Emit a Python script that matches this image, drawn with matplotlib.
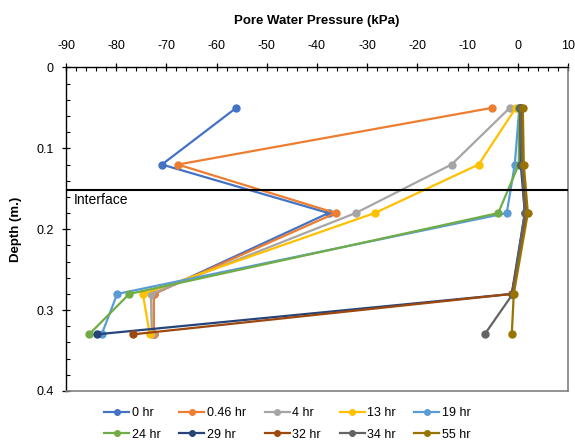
import matplotlib
matplotlib.use("Agg")
import matplotlib.pyplot as plt
from matplotlib.ticker import MultipleLocator

plt.rcParams['font.family'] = ['Liberation Sans', 'DejaVu Sans']
plt.rcParams['axes.unicode_minus'] = False

depth = [0.05, 0.12, 0.18, 0.28, 0.33]
labels = ["0 hr", "0.46 hr", "4 hr", "13 hr", "19 hr",
          "24 hr", "29 hr", "32 hr", "34 hr", "55 hr"]
p_0 = [-56.1, -70.9, -37.7, -72.5, -72.5]
p_046 = [-5.2, -67.7, -36.3, -72.5, -72.5]
p_4 = [-1.6, -13.2, -32.3, -73.1, -72.9]
p_13 = [-0.4, -7.8, -28.5, -74.7, -73.3]
p_19 = [0.3, -0.6, -2.2, -79.8, -82.9]
p_24 = [0.3, 0.2, -3.9, -77.4, -85.4]
p_29 = [0.5, 0.6, 1.4, -1.2, -83.9]
p_32 = [0.7, 0.9, 1.7, -1.2, -76.7]
p_34 = [0.5, 0.8, 1.4, -1.0, -6.6]
p_55 = [1.0, 1.2, 2.0, -0.8, -1.2]
series = [p_0, p_046, p_4, p_13, p_19, p_24, p_29, p_32, p_34, p_55]
colors = ["#4472C4", "#ED7D31", "#A5A5A5", "#FFC000", "#5B9BD5",
          "#70AD47", "#264478", "#9E480E", "#636363", "#997300"]
interface_depth = 0.152

fig = plt.figure(figsize=(5.75, 4.41), dpi=100)
ax = fig.add_axes([0.1148, 0.1134, 0.8730, 0.7336])

handles = []
for lab, vals, c in zip(labels, series, colors):
    h, = ax.plot(vals, depth, color=c, lw=1.6, marker='o', markersize=5, label=lab)
    handles.append(h)

ax.axhline(interface_depth, color='black', lw=1.5, zorder=5)
ax.text(-88.5, interface_depth + 0.003, "Interface", fontsize=10, va='top', ha='left')

ax.set_xlim(-90, 10)
ax.set_ylim(0.4, 0)
ax.xaxis.set_major_locator(MultipleLocator(10))
ax.xaxis.set_minor_locator(MultipleLocator(2))
ax.yaxis.set_major_locator(MultipleLocator(0.1))
ax.yaxis.set_minor_locator(MultipleLocator(0.02))
ax.xaxis.tick_top()
ax.xaxis.set_label_position('top')
ax.set_yticks([0, 0.1, 0.2, 0.3, 0.4])
ax.set_yticklabels(["0", "0.1", "0.2", "0.3", "0.4"])
ax.tick_params(axis='both', which='major', direction='inout', length=6, width=0.9, labelsize=9, color='black')
ax.tick_params(axis='both', which='minor', direction='in', length=3, width=0.8, color='black')
ax.tick_params(axis='x', which='both', top=True, bottom=False, pad=8)
ax.tick_params(axis='y', which='both', left=True, right=False, pad=6)

ax.set_xlabel("Pore Water Pressure (kPa)", fontsize=9.5, fontweight='bold', labelpad=12)
ax.set_ylabel("Depth (m.)", fontsize=9.5, fontweight='bold', labelpad=10)

ax.spines['left'].set_color('black')
ax.spines['top'].set_color('black')
ax.spines['left'].set_linewidth(1.0)
ax.spines['top'].set_linewidth(1.0)
ax.spines['right'].set_color('#808080')
ax.spines['bottom'].set_color('#808080')
ax.spines['right'].set_linewidth(1.2)
ax.spines['bottom'].set_linewidth(1.2)

order = [0, 5, 1, 6, 2, 7, 3, 8, 4, 9]
fig.legend([handles[i] for i in order], [labels[i] for i in order],
           loc='lower center', bbox_to_anchor=(0.5, -0.025), ncol=5, frameon=False,
           fontsize=9, handlelength=2.0, handletextpad=0.2, columnspacing=1.5,
           labelspacing=0.75, markerscale=0.8)

fig.savefig("out.png", dpi=100)
